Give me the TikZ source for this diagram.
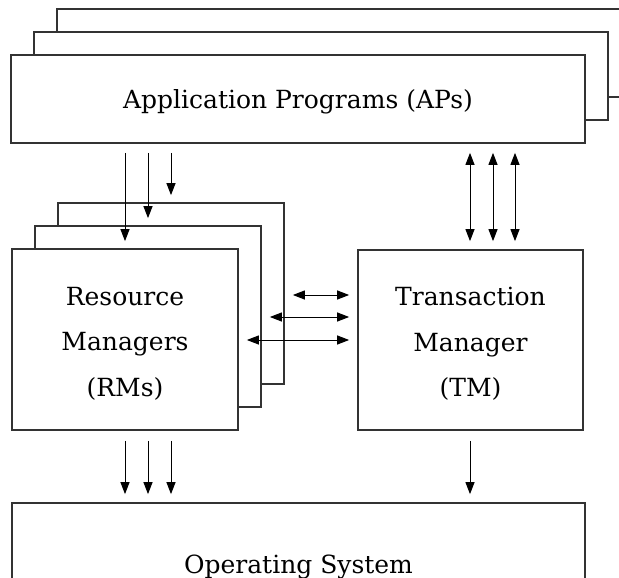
\documentclass[tikz,border=0pt]{standalone}
\usepackage{fontspec}
\setmainfont{DejaVu Serif}
\usetikzlibrary{arrows.meta}
\begin{document}
\begin{tikzpicture}[x=1pt,y=-1pt,
  box/.style={draw=black!80, line width=1.7pt, fill=white, inner sep=0pt},
  lbl/.style={align=center, inner sep=0pt, font={\fontsize{25}{45.5}\selectfont}},
  apbox/.style={box, minimum width=574pt, minimum height=88pt},
  rmbox/.style={box, minimum width=226pt, minimum height=181pt},
  arr/.style={-{Triangle[length=12pt,width=9pt]}, line width=1pt, draw=black},
  darr/.style={{Triangle[length=12pt,width=9pt]}-{Triangle[length=12pt,width=9pt]}, line width=1pt, draw=black}]
\useasboundingbox (0,0) rectangle (619,578);
\clip (0,0) rectangle (619,578);

% stack of application programs
\node[apbox] (ap3) at (344,53) {};
\node[apbox] (ap2) at (321,76) {};
\node[apbox] (ap)  at (298,99) {};
\node[lbl] (aptext) at ([yshift=-3pt]ap.center) {Application Programs (APs)};

% stack of resource managers
\node[rmbox] (rm3) at (171,293.5) {};
\node[rmbox] (rm2) at (148,316.5) {};
\node[rmbox] (rm)  at (125,339.5) {};
\node[lbl] (rmtext) at ([yshift=-4pt]rm.center) {Resource\\Managers\\(RMs)};

% transaction manager
\node[box, minimum width=225pt, minimum height=180pt] (tm) at (470.5,340) {};
\node[lbl] (tmtext) at ([yshift=-4pt]tm.center) {Transaction\\Manager\\(TM)};

% operating system
\node[box, minimum width=573pt, minimum height=124pt] (os) at (298.5,565) {};
\node[lbl] (ostext) at ([yshift=-2pt]os.center) {Operating System};

% x positions of the connector columns
\coordinate (c1) at (125,0);
\coordinate (c2) at (148,0);
\coordinate (c3) at (171,0);
\coordinate (t1) at (470,0);
\coordinate (t2) at (493,0);
\coordinate (t3) at (515,0);
% y positions of the RM-TM connectors
\coordinate (r1) at (0,295);
\coordinate (r2) at (0,317);
\coordinate (r3) at (0,340);

% APs to RMs
\draw[arr, shorten <=9pt, shorten >=7pt] (ap.south -| c1) -- (rm.north -| c1);
\draw[arr, shorten <=9pt, shorten >=7pt] (ap.south -| c2) -- (rm2.north -| c2);
\draw[arr, shorten <=9pt, shorten >=7pt] (ap.south -| c3) -- (rm3.north -| c3);

% APs to TM
\foreach \c in {t1,t2,t3}
  \draw[darr, shorten <=9pt, shorten >=8pt] (ap.south -| \c) -- (tm.north -| \c);

% RMs to TM
\draw[darr, shorten <=8pt, shorten >=8pt] (rm3.east |- r1) -- (tm.west |- r1);
\draw[darr, shorten <=8pt, shorten >=8pt] (rm2.east |- r2) -- (tm.west |- r2);
\draw[darr, shorten <=8pt, shorten >=8pt] (rm.east |- r3) -- (tm.west |- r3);

% RMs and TM to the operating system
\foreach \c in {c1,c2,c3}
  \draw[arr, shorten <=10pt, shorten >=8pt] (rm.south -| \c) -- (os.north -| \c);
\draw[arr, shorten <=10pt, shorten >=8pt] (tm.south -| t1) -- (os.north -| t1);
\end{tikzpicture}
\end{document}
